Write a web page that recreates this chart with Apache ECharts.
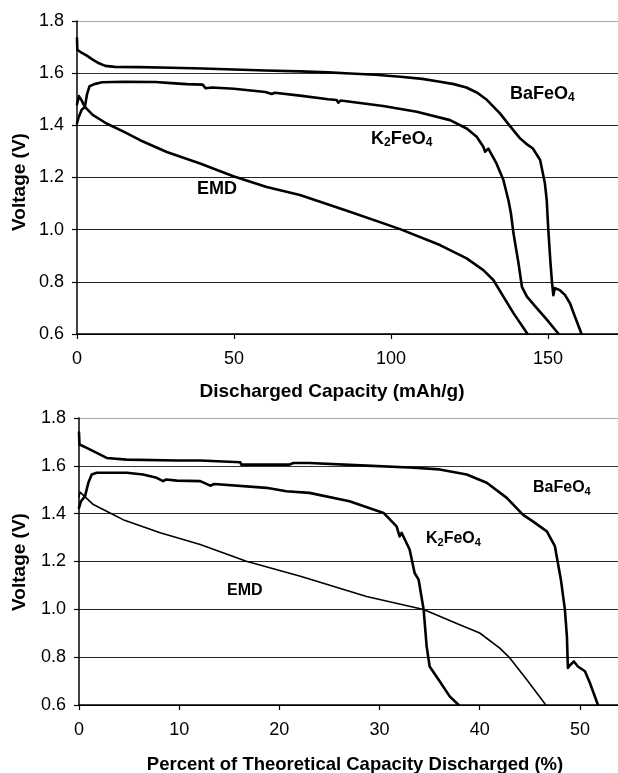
<!DOCTYPE html>
<html>
<head>
<meta charset="utf-8">
<script src="https://cdn.jsdelivr.net/npm/echarts@6/dist/echarts.min.js"></script>
<style>
html,body{margin:0;padding:0;background:#fff;}
#chart{width:618px;height:773px;}
</style>
</head>
<body>
<div id="chart"></div>
<script>
// ---- Data ----
// Top panel: voltage (V) vs discharged capacity (mAh/g)
var capBaFeO4 = [[0,1.734],[0.1,1.69],[1,1.682],[3,1.668],[5,1.652],[7,1.638],[9,1.628],[12,1.624],[20,1.623],[30,1.621],[40,1.618],[50,1.614],[60,1.61],[71,1.607],[80,1.603],[87,1.599],[95,1.594],[103,1.586],[110,1.578],[115.6,1.567],[120,1.558],[124,1.545],[127.5,1.525],[130.6,1.497],[134.7,1.446],[137.9,1.397],[141.1,1.35],[143,1.33],[145.2,1.311],[147.5,1.267],[149,1.179],[149.6,1.113],[150.1,1.0],[150.8,0.872],[151.3,0.795],[151.7,0.749],[152.2,0.776],[153,0.772],[153.8,0.768],[155.4,0.75],[157,0.718],[158.6,0.666],[160.7,0.6]];
var capK2FeO4 = [[0,1.408],[0.5,1.43],[1.5,1.46],[2.5,1.47],[3.2,1.52],[4,1.55],[5.5,1.558],[8,1.565],[15,1.567],[25,1.566],[30,1.562],[35,1.558],[40,1.556],[41,1.542],[43,1.545],[50,1.54],[60,1.528],[62,1.52],[63,1.525],[71,1.514],[80,1.5],[82.7,1.497],[83.2,1.487],[84,1.495],[97.5,1.474],[108.2,1.452],[118.8,1.42],[124.1,1.388],[127.3,1.356],[129.4,1.318],[130,1.299],[131,1.311],[133.6,1.254],[135.8,1.19],[137.4,1.113],[138.2,1.063],[139,0.987],[140.6,0.872],[141.7,0.781],[143.3,0.743],[146.5,0.698],[149.7,0.654],[153.4,0.6]];
var capEMD = [[0,1.48],[0.6,1.512],[1.5,1.495],[2.5,1.471],[5,1.44],[9.4,1.407],[15,1.375],[20.1,1.343],[28.6,1.298],[39.2,1.254],[49.8,1.205],[60.4,1.164],[71,1.133],[86.9,1.069],[102.9,1.002],[115.6,0.941],[124.1,0.89],[129.4,0.845],[132.6,0.807],[135.8,0.743],[139,0.68],[143.5,0.6]];

// Bottom panel: voltage (V) vs percent of theoretical capacity discharged (%)
var pctBaFeO4 = [[0,1.739],[0.05,1.689],[0.77,1.675],[1.77,1.654],[2.76,1.633],[4.76,1.626],[9.75,1.622],[12.1,1.622],[16.1,1.615],[16.2,1.605],[21,1.605],[21.4,1.612],[23,1.612],[28.7,1.601],[33,1.593],[36,1.585],[38.7,1.564],[40.7,1.529],[42.7,1.466],[44.3,1.396],[45.3,1.368],[46.7,1.326],[47.5,1.264],[47.8,1.194],[48.1,1.124],[48.5,0.999],[48.7,0.887],[48.8,0.755],[49,0.766],[49.4,0.782],[49.8,0.761],[50.5,0.741],[51,0.692],[51.8,0.6]];
var pctK2FeO4 = [[0,1.424],[0.2,1.452],[0.6,1.473],[0.93,1.529],[1.27,1.564],[1.77,1.571],[4.76,1.571],[6.4,1.564],[7.75,1.55],[8.4,1.536],[8.7,1.543],[9.75,1.538],[12.1,1.536],[13.1,1.517],[13.5,1.524],[18.7,1.508],[20.7,1.494],[23,1.487],[27,1.452],[30.4,1.403],[31.7,1.347],[32,1.305],[32.2,1.32],[33,1.25],[33.5,1.152],[33.9,1.124],[34.4,0.999],[34.7,0.845],[35,0.761],[36,0.699],[37,0.636],[37.9,0.6]];
var pctEMD = [[0,1.47],[0.1,1.49],[1.43,1.438],[3.1,1.403],[4.4,1.375],[8.1,1.32],[12.1,1.271],[16.7,1.201],[22.1,1.138],[28.7,1.054],[34.4,0.999],[38,0.936],[40,0.901],[42,0.838],[43,0.797],[44.7,0.706],[46.6,0.6]];

var yTicks = [0.6, 0.8, 1.0, 1.2, 1.4, 1.6, 1.8];
var capTicks = [0, 50, 100, 150];
var pctTicks = [0, 10, 20, 30, 40, 50];

var FONT = '"Liberation Sans", Arial, sans-serif';

function xAxisCfg(idx, max, interval, ticks) {
  return {
    type: 'value', gridIndex: idx, min: 0, max: max, interval: interval,
    axisLine: {show: true, onZero: false, lineStyle: {color: '#000', width: 1.5}},
    axisTick: {show: true, length: 5, lineStyle: {color: '#000', width: 1.2}},
    splitLine: {show: false},
    axisLabel: {
      show: true, margin: 16, color: '#000', fontFamily: FONT, fontSize: 18,
      showMaxLabel: false,
      formatter: function (v) { return ticks.indexOf(v) >= 0 ? String(v) : ''; }
    }
  };
}
function yAxisCfg(idx) {
  return {
    type: 'value', gridIndex: idx, min: yTicks[0], max: yTicks[yTicks.length - 1], interval: 0.2,
    axisLine: {show: true, onZero: false, lineStyle: {color: '#000', width: 1.5}},
    axisTick: {show: true, length: 5, lineStyle: {color: '#000', width: 1.2}},
    splitLine: {show: true, lineStyle: {color: ['#000', '#222', '#222', '#222', '#222', '#333', '#a6a6a6'], width: 1.2}},
    axisLabel: {
      show: true, margin: 13, color: '#000', fontFamily: FONT, fontSize: 18,
      formatter: function (v) { return v.toFixed(1); }
    }
  };
}
function lineSeries(data, xi, width) {
  return {
    type: 'line', xAxisIndex: xi, yAxisIndex: xi, data: data,
    showSymbol: false, symbol: 'none', smooth: false, animation: false,
    lineStyle: {color: '#000', width: width, join: 'round', cap: 'round'}, silent: true
  };
}
function label(text, x, y, size, sub) {
  return {
    type: 'text', x: x, y: y,
    style: {
      text: text, fontFamily: FONT, align: 'left', verticalAlign: 'middle', fill: '#000',
      rich: {
        n: {fontSize: size, fontWeight: 'bold', fontFamily: FONT, color: '#000'},
        s: {fontSize: sub, fontWeight: 'bold', fontFamily: FONT, color: '#000', padding: [Math.round(size * 0.45), 0, 0, 0]}
      }
    }
  };
}
function plainText(text, x, y, size, rot) {
  return {
    type: 'text', x: x, y: y, rotation: rot || 0,
    style: {text: text, fontFamily: FONT, fontSize: size, fontWeight: 'bold', fill: '#000', align: 'center', verticalAlign: 'middle'}
  };
}

var chart = echarts.init(document.getElementById('chart'), null, {renderer: 'canvas'});
chart.setOption({
  backgroundColor: '#fff',
  animation: false,
  grid: [
    {left: 77, top: 21, right: 0, height: 313, containLabel: false},
    {left: 79, top: 418, right: 0, height: 287, containLabel: false}
  ],
  xAxis: [xAxisCfg(0, 172.3, 50, capTicks), xAxisCfg(1, 53.8, 10, pctTicks)],
  yAxis: [yAxisCfg(0), yAxisCfg(1)],
  series: [
    lineSeries(capBaFeO4, 0, 2.6),
    lineSeries(capK2FeO4, 0, 2.6),
    lineSeries(capEMD, 0, 2.6),
    lineSeries(pctBaFeO4, 1, 2.6),
    lineSeries(pctK2FeO4, 1, 2.6),
    lineSeries(pctEMD, 1, 1.6)
  ],
  graphic: [
    plainText('Discharged Capacity (mAh/g)', 332, 392, 19),
    plainText('Percent of Theoretical Capacity Discharged (%)', 355, 765, 18.5),
    plainText('Voltage (V)', 20, 182, 19, Math.PI / 2),
    plainText('Voltage (V)', 20, 562, 19, Math.PI / 2),
    label('{n|BaFeO}{s|4}', 510, 94, 18, 12),
    label('{n|K}{s|2}{n|FeO}{s|4}', 371, 139, 18, 12),
    label('{n|EMD}', 197, 189, 18, 12),
    label('{n|BaFeO}{s|4}', 533, 488, 16, 11),
    label('{n|K}{s|2}{n|FeO}{s|4}', 426, 539, 16, 11),
    label('{n|EMD}', 227, 591, 16, 11)
  ]
});
</script>
</body>
</html>
